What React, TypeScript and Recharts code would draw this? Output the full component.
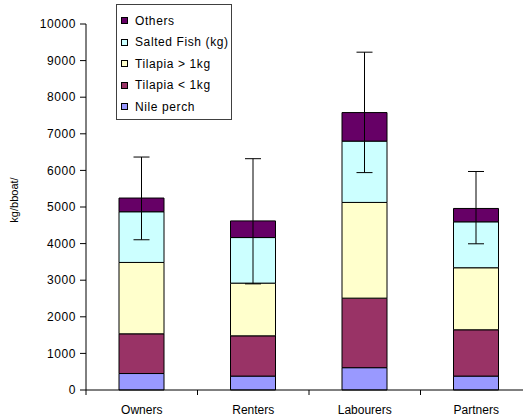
import { BarChart, Bar, XAxis, YAxis, ErrorBar } from "recharts";

const categories = ["Owners", "Renters", "Labourers", "Partners"];
const nilePerch = [450, 380, 610, 380];
const tilapiaSmall = [1085, 1100, 1900, 1265];
const tilapiaLarge = [1950, 1440, 2615, 1695];
const saltedFish = [1385, 1245, 1675, 1255];
const others = [375, 455, 780, 365];
const errLow = [1140, 1720, 1640, 965];
const errHigh = [1120, 1700, 1650, 1010];
const yTicks = [0, 1000, 2000, 3000, 4000, 5000, 6000, 7000, 8000, 9000, 10000];

const series = [
  { key: "nile", name: "Nile perch", color: "#9999FF" },
  { key: "tilSmall", name: "Tilapia < 1kg", color: "#993366" },
  { key: "tilLarge", name: "Tilapia > 1kg", color: "#FFFFCC" },
  { key: "salted", name: "Salted Fish (kg)", color: "#CCFFFF" },
  { key: "others", name: "Others", color: "#660066" },
];

const data = categories.map((c, i) => ({
  name: c,
  nile: nilePerch[i],
  tilSmall: tilapiaSmall[i],
  tilLarge: tilapiaLarge[i],
  salted: saltedFish[i],
  others: others[i],
  err: [errLow[i], errHigh[i]],
}));

const FONT = "'Liberation Sans', Arial, sans-serif";
const W = 540;
const H = 416;
const M = { top: 24, right: 8, left: 0, bottom: 0 };
const Y_W = 86;
const BAND = (W - M.right - Y_W) / categories.length;

const CatTick = (props: any) => {
  const { x, y, payload } = props;
  const off = payload && payload.offset > 0 ? payload.offset : BAND / 2;
  return (
    <g>
      <line x1={x - off} x2={x - off} y1={y} y2={y + 5} stroke="#000" />
      <text x={x} y={y + 24} textAnchor="middle" fontSize={12} fontFamily={FONT} fill="#000">
        {payload.value}
      </text>
    </g>
  );
};

const YLabel = () => (
  <text
    x={0}
    y={0}
    transform="translate(18,200) rotate(-90)"
    textAnchor="middle"
    fontSize={11}
    fontFamily={FONT}
    fill="#000"
  >
    kg/bboat/
  </text>
);

// legend box, top entry = top of the stack
const LegendBox = () => (
  <div
    style={{
      position: "absolute",
      left: 116,
      top: 4,
      width: 114,
      paddingTop: 5,
      paddingBottom: 1,
      border: "1px solid #404040",
      background: "#fff",
      fontFamily: FONT,
      fontSize: 12,
      letterSpacing: 0.6,
      color: "#000",
    }}
  >
    {[...series].reverse().map((s) => (
      <div key={s.key} style={{ height: 21.5, display: "flex", alignItems: "center" }}>
        <span
          style={{
            display: "inline-block",
            width: 5,
            height: 5,
            marginLeft: 4,
            marginRight: 7,
            background: s.color,
            border: "1px solid #000",
          }}
        />
        <span style={{ whiteSpace: "nowrap" }}>{s.name}</span>
      </div>
    ))}
  </div>
);

export default function App() {
  return (
    <div style={{ position: "absolute", left: 0, top: 0, width: 523, height: 416, overflow: "hidden", background: "#fff" }}>
      <BarChart width={W} height={H} data={data} margin={M} barSize={45}>
        <XAxis
          dataKey="name"
          height={26}
          axisLine={{ stroke: "#000" }}
          tickLine={false}
          tickSize={0}
          tickMargin={0}
          tick={<CatTick />}
          interval={0}
        />
        <YAxis
          width={Y_W}
          domain={[0, 10000]}
          ticks={yTicks}
          interval={0}
          axisLine={{ stroke: "#000" }}
          tickLine={{ stroke: "#000" }}
          tickSize={6}
          tickMargin={4}
          tick={{ fontSize: 12, fontFamily: FONT, fill: "#000", letterSpacing: 0.6 }}
          label={<YLabel />}
        />
        {series.map((s) => (
          <Bar
            key={s.key}
            dataKey={s.key}
            name={s.name}
            stackId="a"
            fill={s.color}
            stroke="#000"
            strokeWidth={1}
            isAnimationActive={false}
          >
            {s.key === "others" && (
              <ErrorBar dataKey="err" width={8} stroke="#000" strokeWidth={1} direction="y" />
            )}
          </Bar>
        ))}
      </BarChart>
      <LegendBox />
    </div>
  );
}
